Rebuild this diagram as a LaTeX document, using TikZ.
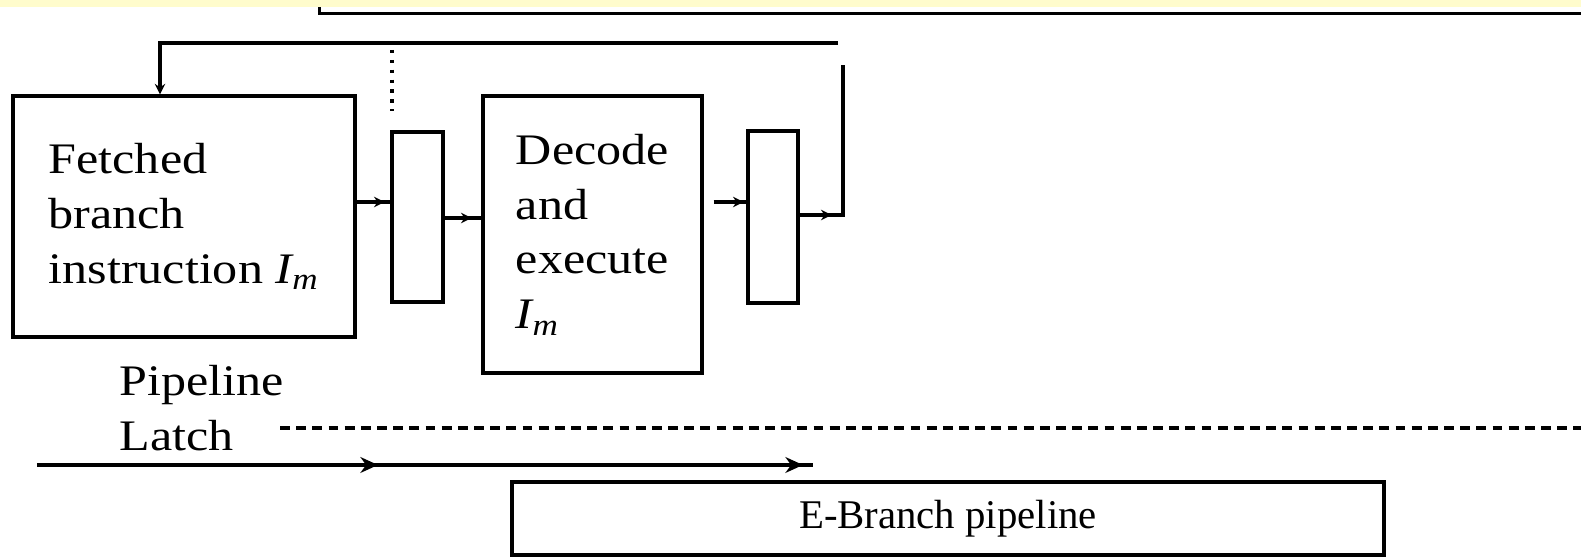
\documentclass[tikz,border=0pt]{standalone}
\usepackage{fontspec}
\setmainfont{Liberation Serif}[FakeStretch=1.15]
\newfontfamily\narrowserif{Liberation Serif}
\usepackage{tikz}
\usetikzlibrary{arrows.meta,decorations.markings}
\definecolor{bandyellow}{RGB}{255,252,204}
\tikzset{
  stagebox/.style={draw, line width=0.9pt, align=left, inner sep=0pt,
    font=\fontsize{12.4}{15.6}\selectfont},
  latchbox/.style={draw, line width=0.9pt, inner sep=0pt},
  wire/.style={line width=0.9pt},
  midtip/.style={postaction={decorate}, decoration={markings,
    mark=at position #1 with {\arrow{Stealth[length=3pt,width=3pt]}}}},
  flowtips/.style 2 args={postaction={decorate}, decoration={markings,
    mark=at position #1 with {\arrow{Stealth[length=5pt,width=4.5pt]}},
    mark=at position #2 with {\arrow{Stealth[length=5pt,width=4.5pt]}}}}
}
\newcommand{\instrIm}{{\itshape I\textsubscript{m}}}

\begin{document}
\begin{tikzpicture}
  \useasboundingbox (0,0) rectangle (15.81,5.58);
  \clip (0,0) rectangle (15.81,5.58);

  % previous stage, cut off by the page top
  \node[latchbox, anchor=south west, minimum width=13cm, minimum height=1cm] (prevbox) at (3.18,5.43) {};
  \fill[bandyellow] (0,5.51) rectangle (15.81,5.58);

  % stages and latches
  \node[stagebox, minimum width=3.42cm, minimum height=2.41cm] (fetch) at (1.84,3.415)
    {Fetched\\branch\\instruction \instrIm};
  \node[latchbox, minimum width=0.51cm, minimum height=1.70cm] (latchA) at (4.175,3.41) {};
  \node[stagebox, minimum width=2.19cm, minimum height=2.77cm] (decode) at (5.925,3.235)
    {Decode\\and\\execute\\\instrIm};
  \node[latchbox, minimum width=0.50cm, minimum height=1.72cm] (latchB) at (7.73,3.41) {};
  \node[stagebox, minimum width=8.72cm, minimum height=0.73cm, font=\narrowserif\fontsize{11.6}{13}\selectfont] (ebranch) at (9.48,0.395)
    {E-Branch pipeline};
  \node[stagebox, draw=none, anchor=west] (latchlabel) at (1.18,1.50) {Pipeline\\Latch};

  % rows of the connectors
  \coordinate (rowA) at (0,3.56);
  \coordinate (rowB) at (0,3.40);
  \coordinate (rowC) at (0,3.43);
  \coordinate (topL) at (1.60,5.15);
  \coordinate (topR) at (8.38,5.15);
  \coordinate (riseB) at (8.43,3.43);
  \coordinate (riseT) at (8.43,4.93);
  \coordinate (dotT) at (3.92,5.08);
  \coordinate (flowL) at (0.37,0.93);
  \coordinate (flowR) at (8.13,0.93);
  \coordinate (dashL) at (2.80,1.30);
  \coordinate (dashR) at (15.81,1.30);

  \draw[wire, midtip=0.28cm] (fetch.east |- rowA) -- (latchA.west |- rowA);
  \draw[wire, midtip=0.27cm] (latchA.east |- rowB) -- (decode.west |- rowB);
  \draw[wire, midtip=0.3cm] ([xshift=0.1cm]decode.east |- rowA) -- (latchB.west |- rowA);
  \draw[wire, midtip=0.32cm] (latchB.east |- rowC) -- (riseB) -- (riseT);
  \draw[wire, -{Stealth[length=3pt,width=3pt]}] (topR) -- (topL) -- (topL |- fetch.north);
  \draw[line width=1pt, dash pattern=on 1pt off 1.8pt, shorten >=0.19cm] (dotT) -- (dotT |- latchA.north);

  \draw[wire, flowtips={3.41cm}{7.66cm}] (flowL) -- (flowR);
  \draw[wire, dash pattern=on 2.8pt off 1.8pt] (dashL) -- (dashR);
\end{tikzpicture}
\end{document}
